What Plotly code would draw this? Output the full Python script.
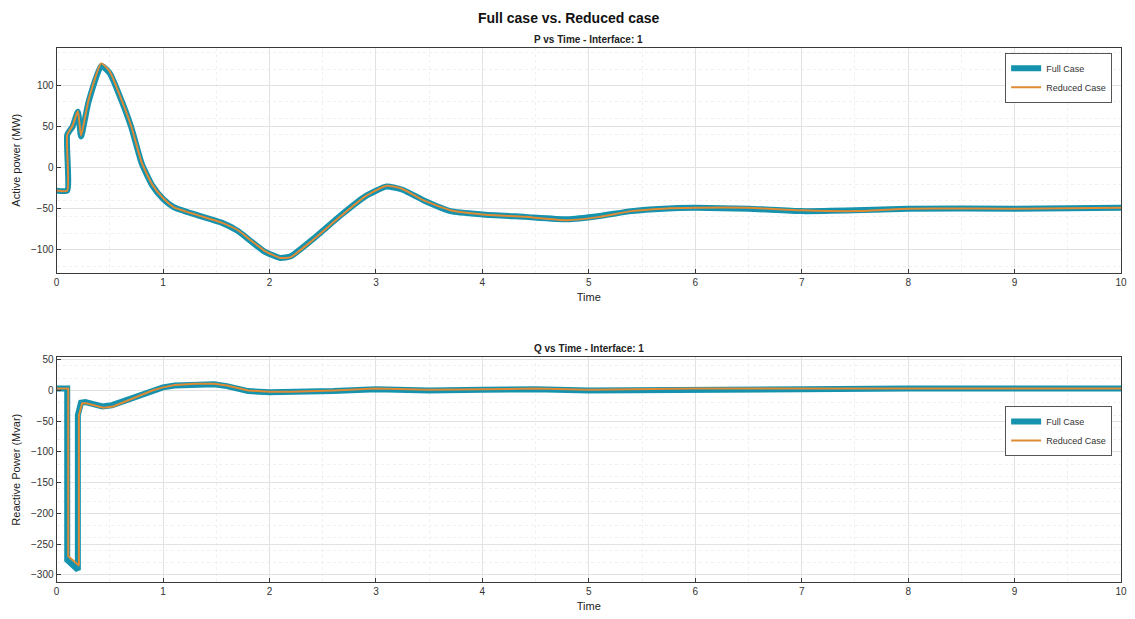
import plotly.graph_objects as go

# ---- data ----
t_p_full = [0, 0.1, 0.1, 0.15, 0.2, 0.23, 0.3, 0.42, 0.5, 0.6, 0.7, 0.8, 0.9, 1.0, 1.1, 1.3, 1.55, 1.7, 1.8, 1.95, 2.1, 2.2, 2.4, 2.67, 2.9, 3.1, 3.25, 3.45, 3.7, 4.0, 4.4, 4.8, 5.1, 5.4, 5.7, 6.0, 6.5, 7.0, 7.5, 8.0, 9.0, 10.0]
p_full   = [-28, -28, 40, 50, 68, 38, 80, 124, 115, 85, 50, 5, -22, -38, -48, -57, -67, -77, -87, -102, -110, -108, -88, -58, -35, -23, -27, -40, -53, -57, -60, -63, -59, -53, -50, -49, -50, -53, -52, -50, -50, -49]
t_p_red  = t_p_full
p_red    = [-28, -28, 40, 51, 69, 39, 82, 127, 117, 86, 51, 6, -21, -37, -48, -57, -67, -76, -86, -101, -110, -109, -89, -59, -35, -22, -26, -40, -52, -57, -60, -64, -60, -53, -50, -49, -49, -52, -53, -50, -50, -49]

t_q_full = [0, 0.1, 0.1, 0.2, 0.2, 0.23, 0.27, 0.33, 0.43, 0.52, 0.6, 0.7, 0.8, 0.9, 1.0, 1.11, 1.3, 1.48, 1.6, 1.7, 1.8, 2.0, 2.2, 2.6, 3.0, 3.5, 4.0, 4.5, 5.0, 5.5, 6.0, 7.0, 8.0, 9.0, 10.0]
q_full   = [3, 3, -276, -292, -40, -20, -19, -22, -26, -24, -19, -13, -6, 0, 5, 8, 10, 10, 7, 3, -1, -3, -3, -1, 2, 0, 1, 2, 0, 1, 2, 2, 3, 3, 3]
t_q_red  = [0, 0.11, 0.11, 0.21, 0.21, 0.24, 0.28, 0.34, 0.44, 0.53, 0.6, 0.7, 0.8, 0.9, 1.0, 1.11, 1.3, 1.48, 1.6, 1.7, 1.8, 2.0, 2.2, 2.6, 3.0, 3.5, 4.0, 4.5, 5.0, 5.5, 6.0, 7.0, 8.0, 9.0, 10.0]
q_red    = [3, 3, -270, -285, -40, -21, -21, -24, -28, -26, -21, -14, -7, 0, 5, 9, 11, 11, 8, 4, 0, -2, -2, 0, 3, 1, 2, 3, 1, 2, 3, 3, 3, 3, 3]

x_ticks = [0, 1, 2, 3, 4, 5, 6, 7, 8, 9, 10]
p_ticks = [-100, -50, 0, 50, 100]
q_ticks = [-300, -250, -200, -150, -100, -50, 0, 50]

FULL_COLOR = "#1592ad"
RED_COLOR = "#df8a34"
FONT = "Liberation Sans, Arial, sans-serif"

fig = go.Figure()
fig.add_trace(go.Scatter(x=t_p_full, y=p_full, mode="lines", name="Full Case",
                         line=dict(color=FULL_COLOR, width=6, shape="spline", smoothing=0.5),
                         xaxis="x", yaxis="y"))
fig.add_trace(go.Scatter(x=t_p_red, y=p_red, mode="lines", name="Reduced Case",
                         line=dict(color=RED_COLOR, width=2, shape="spline", smoothing=0.5),
                         xaxis="x", yaxis="y"))
fig.add_trace(go.Scatter(x=t_q_full, y=q_full, mode="lines", name="Full Case",
                         line=dict(color=FULL_COLOR, width=6),
                         xaxis="x2", yaxis="y2", legend="legend2"))
fig.add_trace(go.Scatter(x=t_q_red, y=q_red, mode="lines", name="Reduced Case",
                         line=dict(color=RED_COLOR, width=2),
                         xaxis="x2", yaxis="y2", legend="legend2"))

W, H = 1135, 619
xd = [54 / W, 1127 / W]
top_d = [(H - 271) / H, (H - 45) / H]
bot_d = [(H - 582) / H, (H - 356) / H]

axis_common = dict(
    showline=True, mirror=True, linecolor="#3a3a3a", linewidth=1,
    ticks="inside", ticklen=4, tickcolor="#3a3a3a",
    showgrid=True, gridcolor="#e2e2e2", gridwidth=1,
    zeroline=False, tickfont=dict(size=10, color="#333", family=FONT),
    minor=dict(showgrid=True, gridcolor="#f0f0f0", griddash="dot", ticks=""),
)

leg_common = dict(xanchor="right", yanchor="top", bgcolor="white", bordercolor="#555",
                  borderwidth=1, font=dict(size=9, color="#333"), tracegroupgap=0,
                  itemwidth=30, entrywidth=50, entrywidthmode="pixels")

fig.update_layout(
    width=W, height=H, margin=dict(l=0, r=0, t=0, b=0),
    paper_bgcolor="white", plot_bgcolor="white",
    font=dict(family=FONT, color="#222"),
    xaxis=dict(domain=xd, anchor="y", range=[0, 10], tickvals=x_ticks,
               title=dict(text="Time", font=dict(size=11), standoff=6), **axis_common),
    yaxis=dict(domain=top_d, anchor="x", range=[-128, 146], tickvals=p_ticks,
               title=dict(text="Active power (MW)", font=dict(size=11), standoff=8), **axis_common),
    xaxis2=dict(domain=xd, anchor="y2", range=[0, 10], tickvals=x_ticks,
                title=dict(text="Time", font=dict(size=11), standoff=6), **axis_common),
    yaxis2=dict(domain=bot_d, anchor="x2", range=[-312, 54], tickvals=q_ticks,
                title=dict(text="Reactive Power (Mvar)", font=dict(size=11), standoff=8), **axis_common),
    showlegend=True,
    legend=dict(x=1118 / W, y=(H - 50) / H, **leg_common),
    legend2=dict(x=1118 / W, y=(H - 405) / H, **leg_common),
    annotations=[
        dict(text="<b>Full case vs. Reduced case</b>", x=0.503, y=(H - 15) / H, xref="paper", yref="paper",
             showarrow=False, font=dict(size=14, color="#111"), xanchor="center", yanchor="middle"),
        dict(text="<b>P vs Time - Interface: 1</b>", x=(54 + 1127) / 2 / W, y=(H - 37) / H, xref="paper", yref="paper",
             showarrow=False, font=dict(size=10, color="#222"), xanchor="center", yanchor="middle"),
        dict(text="<b>Q vs Time - Interface: 1</b>", x=(54 + 1127) / 2 / W, y=(H - 347) / H, xref="paper", yref="paper",
             showarrow=False, font=dict(size=10, color="#222"), xanchor="center", yanchor="middle"),
    ],
)

fig.write_html("out.html")
